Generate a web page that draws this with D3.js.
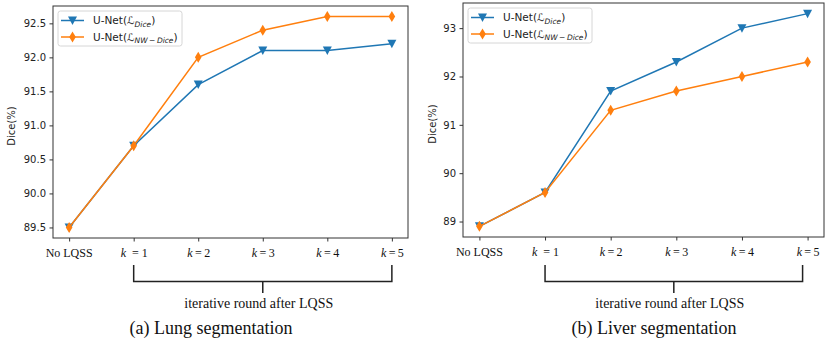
<html>
<head>
<script src="https://d3js.org/d3.v7.min.js"></script>
<style>
  body { margin: 0; background: #fff; }
  .tick text { font-family: "DejaVu Sans", sans-serif; font-size: 10px; fill: #222; }
  .tick line { stroke: #333; }
</style>
</head>
<body>
<svg width="831" height="344"></svg>
<script>
// categories on the x axis (0 = before LQSS, then k = 1..5)
const categories = ["No LQSS", "1", "2", "3", "4", "5"];

// lung segmentation, Dice (%)
const lungDice   = [89.5, 90.7, 91.6, 92.1, 92.1, 92.2];
const lungNWDice = [89.5, 90.7, 92.0, 92.4, 92.6, 92.6];
const lungTicks  = [89.5, 90.0, 90.5, 91.0, 91.5, 92.0, 92.5];

// liver segmentation, Dice (%)
const liverDice   = [88.9, 89.6, 91.7, 92.3, 93.0, 93.3];
const liverNWDice = [88.9, 89.6, 91.3, 91.7, 92.0, 92.3];
const liverTicks  = [89, 90, 91, 92, 93];

const blue = "#1f77b4", orange = "#ff7f0e";
const svg = d3.select("svg");
svg.append("rect").attr("width", 831).attr("height", 344).attr("fill", "#fff");

function drawPanel(p) {
    let idx = d3.range(categories.length);
    let x = d3.scaleLinear().domain([-0.25, categories.length - 0.75]).range([p.x0, p.x1]);
    let all = p.dice.concat(p.nw);
    let lo = d3.min(all), hi = d3.max(all), pad = (hi - lo) * 0.05;
    let y = d3.scaleLinear().domain([lo - pad, hi + pad]).range([p.y1, p.y0]);

    let g = svg.append("g");

    // y axis
    g.append("g")
     .attr("transform", "translate(" + p.x0 + ",0)")
     .call(d3.axisLeft(y).tickValues(p.ticks).tickFormat(p.fmt).tickSize(3.5).tickPadding(3.5))
     .call(a => a.select(".domain").remove());

    // x axis, labels added by hand below
    g.append("g")
     .attr("transform", "translate(0," + p.y1 + ")")
     .call(d3.axisBottom(x).tickValues(idx).tickFormat("").tickSize(3.5))
     .call(a => a.select(".domain").remove());

    idx.forEach(function(i) {
        let t = g.append("text")
            .attr("x", x(i) + (i == 0 ? 0 : 0.5))
            .attr("y", p.y1 + 19)
            .attr("text-anchor", "middle")
            .attr("font-family", "Liberation Serif, serif")
            .attr("font-size", 12)
            .attr("fill", "#111");
        if (i == 0) {
            t.text(categories[i]);
        } else {
            t.append("tspan").attr("font-style", "italic").text("k");
            t.append("tspan").text((i == 1 ? "\u2002= " : "\u2009=\u2009") + categories[i]);
        }
    });

    // frame
    g.append("rect")
     .attr("x", p.x0).attr("y", p.y0)
     .attr("width", p.x1 - p.x0).attr("height", p.y1 - p.y0)
     .attr("fill", "none").attr("stroke", "#333").attr("stroke-width", 1);

    // y label
    g.append("text")
     .attr("transform", "translate(" + p.ylabX + "," + ((p.y0 + p.y1) / 2 + 4) + ") rotate(-90)")
     .attr("text-anchor", "middle")
     .attr("font-family", "DejaVu Sans, sans-serif")
     .attr("font-size", 10)
     .attr("fill", "#222")
     .text("Dice(%)");

    let line = d3.line().x((d, i) => x(i)).y(d => y(d));
    [[p.dice, blue, "tri"], [p.nw, orange, "dia"]].forEach(function(s) {
        g.append("path").datum(s[0])
         .attr("d", line).attr("fill", "none")
         .attr("stroke", s[1]).attr("stroke-width", 1.5);
        g.selectAll(null).data(s[0]).enter().append("path")
         .attr("d", (d, i) => marker(s[2], x(i), y(d)))
         .attr("fill", s[1]);
    });

    // legend
    let lx = p.x0 + 5, ly = p.y0 + 5;
    g.append("rect")
     .attr("x", lx).attr("y", ly).attr("width", 124).attr("height", 35)
     .attr("rx", 2.5).attr("fill", "#fff").attr("fill-opacity", 0.85)
     .attr("stroke", "#ccc").attr("stroke-width", 0.8);
    [[blue, "tri", "Dice"], [orange, "dia", "NW\u2009\u2212\u2009Dice"]].forEach(function(e, k) {
        let cy = ly + 9.5 + k * 16.5;
        g.append("line")
         .attr("x1", lx + 3).attr("x2", lx + 26).attr("y1", cy).attr("y2", cy)
         .attr("stroke", e[0]).attr("stroke-width", 1.5);
        g.append("path").attr("d", marker(e[1], lx + 14.5, cy)).attr("fill", e[0]);
        let t = g.append("text")
            .attr("x", lx + 35).attr("y", cy + 3.7)
            .attr("font-family", "DejaVu Sans, sans-serif")
            .attr("font-size", 10.5).attr("fill", "#222");
        t.append("tspan").text("U-Net(");
        t.append("tspan").attr("font-style", "italic").text("\u2112");
        t.append("tspan").attr("font-style", "italic").attr("font-size", 7.5).attr("dy", 2.5).text(e[2]);
        t.append("tspan").attr("dy", -2.5).text(")");
    });

    // bracket under k = 1 .. k = 5
    let bx0 = x(1), bx1 = x(5) + p.bOff, bm = (bx0 + bx1) / 2;
    g.append("path")
     .attr("d", "M" + bx0 + ",265V281.5H" + bx1 + "V265M" + bm + ",281.5V293")
     .attr("fill", "none").attr("stroke", "#222").attr("stroke-width", 1.5);
    g.append("text")
     .attr("x", bm - 4).attr("y", 308)
     .attr("text-anchor", "middle")
     .attr("font-family", "Liberation Serif, serif")
     .attr("font-size", 14).attr("fill", "#111")
     .text("iterative round after LQSS");

    g.append("text")
     .attr("x", p.capX).attr("y", 334)
     .attr("text-anchor", "middle")
     .attr("font-family", "Liberation Serif, serif")
     .attr("font-size", 18).attr("fill", "#111")
     .text(p.caption);
}

function marker(type, cx, cy) {
    if (type == "tri") {
        return "M" + (cx - 4.5) + "," + (cy - 4) + "L" + (cx + 4.5) + "," + (cy - 4) + "L" + cx + "," + (cy + 4.5) + "Z";
    }
    return "M" + cx + "," + (cy - 5.5) + "L" + (cx + 3.3) + "," + cy + "L" + cx + "," + (cy + 5.5) + "L" + (cx - 3.3) + "," + cy + "Z";
}

drawPanel({x0: 53, x1: 408, y0: 6, y1: 238, dice: lungDice, nw: lungNWDice,
           ticks: lungTicks, fmt: d3.format(".1f"), ylabX: 15, bOff: 0,
           caption: "(a) Lung segmentation", capX: 211});
drawPanel({x0: 463, x1: 824, y0: 3, y1: 237, dice: liverDice, nw: liverNWDice,
           ticks: liverTicks, fmt: d3.format("d"), ylabX: 436, bOff: -5,
           caption: "(b) Liver segmentation", capX: 654});
</script>
</body>
</html>
